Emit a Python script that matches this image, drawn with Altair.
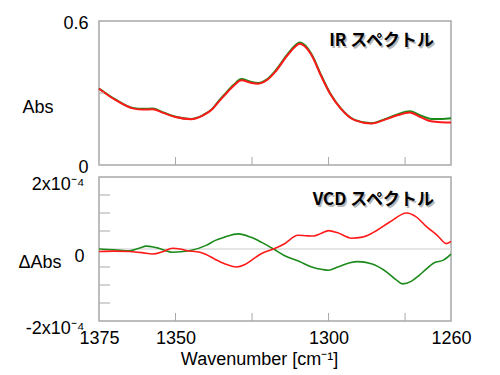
import altair as alt
import pandas as pd

# ---------------- data ----------------
ir_wn = [1375, 1369.5, 1364, 1360.5, 1357.5, 1354, 1350, 1345, 1341, 1338, 1336,
         1334, 1331, 1328.5, 1325.5, 1323, 1320, 1317.5, 1313.5, 1311, 1309.5,
         1308, 1305.5, 1302.5, 1299.5, 1296, 1291.5, 1286, 1282, 1277.5, 1273.5,
         1270, 1266.5, 1263, 1260]
ir_red = [0.318, 0.270, 0.236, 0.231, 0.232, 0.217, 0.200, 0.191, 0.207, 0.232, 0.262,
          0.290, 0.330, 0.353, 0.343, 0.339, 0.355, 0.387, 0.456, 0.492, 0.505,
          0.497, 0.456, 0.373, 0.297, 0.235, 0.187, 0.173, 0.187, 0.207, 0.219,
          0.200, 0.182, 0.178, 0.177]
ir_green = [0.319, 0.272, 0.238, 0.234, 0.235, 0.219, 0.201, 0.192, 0.208, 0.234, 0.265,
            0.294, 0.334, 0.358, 0.347, 0.342, 0.358, 0.391, 0.460, 0.497, 0.510,
            0.502, 0.460, 0.376, 0.299, 0.236, 0.188, 0.174, 0.189, 0.211, 0.224,
            0.207, 0.192, 0.192, 0.195]

# VCD values in units of 1e-4
vcd_red_wn = [1375, 1370, 1365, 1361, 1357.5, 1354, 1351, 1348.5, 1346.5, 1342, 1340,
              1337, 1334, 1330, 1327.5, 1325, 1322, 1318, 1314.5, 1310, 1307.5, 1305,
              1302.5, 1300, 1297, 1292.5, 1289, 1286, 1280, 1274.5, 1271.5, 1268,
              1264.5, 1261.5, 1260]
vcd_red = [-0.07, -0.06, -0.07, -0.10, -0.14, -0.07, 0.02, 0.00, -0.04, -0.09, -0.15,
           -0.29, -0.41, -0.50, -0.44, -0.30, -0.13, 0.00, 0.14, 0.38, 0.37, 0.36,
           0.43, 0.51, 0.45, 0.30, 0.33, 0.43, 0.75, 1.00, 0.90, 0.62,
           0.38, 0.15, 0.21]
vcd_green_wn = [1375, 1370, 1365, 1362, 1359.5, 1357, 1355.5, 1351, 1345.5, 1340, 1337,
                1334, 1329.5, 1325.5, 1322, 1318, 1314.5, 1309.5, 1305.5, 1302, 1300,
                1297, 1293, 1290.5, 1286, 1281, 1278, 1275.8, 1273, 1270.5, 1268,
                1265.5, 1262.5, 1260]
vcd_green = [0.00, -0.02, -0.05, 0.02, 0.08, 0.05, 0.02, -0.09, -0.05, 0.10, 0.24,
             0.33, 0.42, 0.33, 0.19, 0.00, -0.18, -0.35, -0.50, -0.57, -0.59,
             -0.50, -0.38, -0.35, -0.41, -0.64, -0.85, -0.97, -0.90, -0.74, -0.55,
             -0.38, -0.31, -0.14]

x_domain = [1375, 1260]
x_label_values = [1375, 1350, 1300, 1260]
x_tick_values = [1350, 1325, 1300, 1275]
ir_domain = [0, 0.6]
ir_label_values = [0, 0.6]
ir_tick_values = [0.3]
vcd_domain = [-2, 2]
vcd_label_values = [-2, 0, 2]
vcd_tick_values = [-1.5, -1, -0.5, 0.5, 1, 1.5]
vcd_zero = [0]

ir_title = "IR スペクトル"
vcd_title = "VCD スペクトル"

# ---------------- style ----------------
W, H = 352, 144
FONT = "Liberation Sans"
JFONT = "Noto Sans CJK JP"
GREY = "#a8a8a8"
GREEN = "#1b8a1b"
RED = "#ff1a1a"

xscale = alt.Scale(domain=x_domain, nice=False, zero=False)
ir_scale = alt.Scale(domain=ir_domain, nice=False, zero=False)
vcd_scale = alt.Scale(domain=vcd_domain, nice=False, zero=False)

ir_axis = alt.Axis(
    values=ir_label_values, labelExpr="datum.value == 0 ? '0' : '0.6'",
    domain=False, ticks=False, grid=False, labelPadding=11, labelOffset=2,
    labelFlush=False, labelOverlap=False,
    labelFont=FONT, labelFontSize=18, labelColor="#000",
    title="Abs", titleAngle=0, titleAlign="left", titleBaseline="middle",
    titleX=-77, titleY=86, titleFont=FONT, titleFontSize=18, titleFontWeight="normal",
    titleColor="#000",
)
vcd_axis = alt.Axis(
    values=vcd_label_values,
    labelExpr="datum.value == 2 ? '2x10⁻⁴' : (datum.value == -2 ? '-2x10⁻⁴' : '0')",
    domain=False, ticks=False, grid=False, labelPadding=15, labelOffset=7,
    labelFlush=False, labelOverlap=False,
    labelFont=FONT, labelFontSize=18, labelColor="#000",
    title="ΔAbs", titleAngle=0, titleAlign="left", titleBaseline="middle",
    titleX=-81, titleY=85, titleFont=FONT, titleFontSize=18, titleFontWeight="normal",
    titleColor="#000",
)
x_axis = alt.Axis(
    values=x_label_values, format="d", domain=False, ticks=False, grid=False,
    labelFlush=False, labelOverlap=False,
    labelPadding=8, labelFont=FONT, labelFontSize=18, labelColor="#000",
    title="Wavenumber [cm⁻¹]", titleFont=FONT, titleFontSize=18, titleFontWeight="normal",
    titleColor="#000", titleX=160, titleY=38, titleAlign="center", titleBaseline="middle",
)


def line_layer(wn, vals, color, field, yscale, xaxis, yaxis, width):
    df = pd.DataFrame({"wn": wn, field: vals})
    return alt.Chart(df).mark_line(color=color, strokeWidth=width, interpolate="monotone").encode(
        x=alt.X("wn:Q", scale=xscale, axis=xaxis),
        y=alt.Y(f"{field}:Q", scale=yscale, axis=yaxis),
    )


def x_ticks(xaxis):
    return alt.Chart(pd.DataFrame({"wn": x_tick_values})).mark_rule(color=GREY, strokeWidth=1).encode(
        x=alt.X("wn:Q", scale=xscale, axis=xaxis),
        y=alt.value(H),
        y2=alt.value(H - 8),
    )


def y_ticks(values, field, yscale, yaxis, length):
    return alt.Chart(pd.DataFrame({field: values})).mark_rule(color=GREY, strokeWidth=1).encode(
        y=alt.Y(f"{field}:Q", scale=yscale, axis=yaxis),
        x=alt.value(0),
        x2=alt.value(length),
    )


def label(text, ypix):
    df = pd.DataFrame({"t": [text]})
    shadow = alt.Chart(df).mark_text(
        font=JFONT, fontWeight="bold", fontSize=17, align="right", baseline="middle",
        color="#9a9a9a", opacity=0.7, dx=1.5, dy=1.5,
    ).encode(text="t:N", x=alt.value(W - 17), y=alt.value(ypix))
    main = alt.Chart(df).mark_text(
        font=JFONT, fontWeight="bold", fontSize=17, align="right", baseline="middle",
        color="#000000",
    ).encode(text="t:N", x=alt.value(W - 17), y=alt.value(ypix))
    return shadow + main


# ---------------- top panel (IR) ----------------
top = alt.layer(
    line_layer(ir_wn, ir_green, GREEN, "abs", ir_scale, None, ir_axis, 2),
    line_layer(ir_wn, ir_red, RED, "abs", ir_scale, None, ir_axis, 2),
    x_ticks(None),
    y_ticks(ir_tick_values, "abs", ir_scale, ir_axis, 5),
    label(ir_title, 20),
).properties(width=W, height=H)

# ---------------- bottom panel (VCD) ----------------
zero_line = alt.Chart(pd.DataFrame({"d": vcd_zero})).mark_rule(color="#dcdcdc", strokeWidth=1.5).encode(
    y=alt.Y("d:Q", scale=vcd_scale, axis=vcd_axis),
)

bottom = alt.layer(
    zero_line,
    line_layer(vcd_green_wn, vcd_green, GREEN, "d", vcd_scale, x_axis, vcd_axis, 1.6),
    line_layer(vcd_red_wn, vcd_red, RED, "d", vcd_scale, x_axis, vcd_axis, 1.6),
    x_ticks(x_axis),
    y_ticks(vcd_tick_values, "d", vcd_scale, vcd_axis, 11),
    label(vcd_title, 23),
).properties(width=W, height=H)

chart = alt.vconcat(top, bottom, spacing=12, bounds="flush").properties(
    padding={"left": 9, "top": 5, "right": 5, "bottom": 5},
    background="#ffffff",
).configure_view(stroke=GREY, strokeWidth=1.5)

chart.save("out.html", embed_options={"renderer": "svg", "actions": False})
